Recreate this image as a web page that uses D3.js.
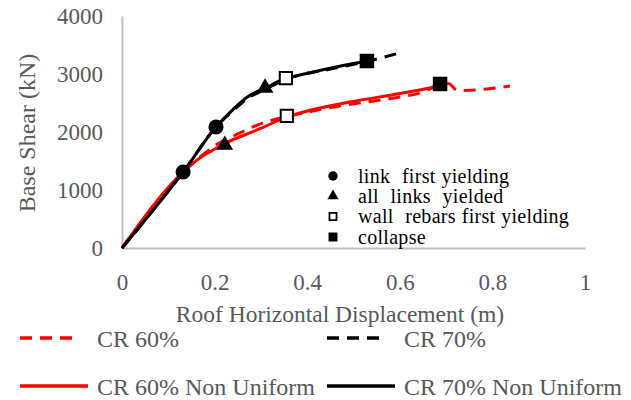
<!DOCTYPE html>
<html>
<head>
<meta charset="utf-8">
<script src="https://cdn.jsdelivr.net/npm/d3@7"></script>
<style>
  html, body { margin: 0; padding: 0; background: #fff; }
  svg { display: block; }
  text { font-family: "Liberation Serif", "Times New Roman", serif; }
</style>
</head>
<body>
<svg id="chart" width="631" height="400"></svg>
<script>
// Pushover curves: roof displacement (m) vs base shear (kN)
const cr60 = [
  [0, 0], [0.132, 1310], [0.168, 1565], [0.20, 1760], [0.255, 1985], [0.302, 2150],
  [0.356, 2262], [0.45, 2420], [0.60, 2605], [0.644, 2672], [0.687, 2810],
  [0.705, 2835], [0.725, 2715], [0.788, 2741], [0.838, 2793]
];
const cr70 = [
  [0, 0], [0.132, 1310], [0.203, 2086], [0.24, 2370], [0.27, 2572], [0.309, 2735],
  [0.356, 2912], [0.45, 3085], [0.529, 3215], [0.60, 3365]
];
const cr60NonUniform = [
  [0, 0], [0.132, 1310], [0.168, 1552], [0.197, 1690], [0.22, 1793], [0.302, 2069],
  [0.356, 2262], [0.384, 2328], [0.492, 2517], [0.60, 2664], [0.672, 2776], [0.695, 2835]
];
const cr70NonUniform = [
  [0, 0], [0.132, 1310], [0.203, 2086], [0.24, 2390], [0.27, 2600], [0.309, 2755],
  [0.356, 2931], [0.384, 2983], [0.45, 3100], [0.529, 3224]
];

// Damage states marked along the curves
const linkFirstYielding = [[0.132, 1310], [0.203, 2086]];
const allLinksYielded = [[0.222, 1776], [0.309, 2760]];
const wallRebarsFirstYielding = [[0.356, 2276], [0.354, 2931]];
const collapse = [[0.529, 3224], [0.687, 2828]];

const xTicks = [0, 0.2, 0.4, 0.6, 0.8, 1];
const yTicks = [0, 1000, 2000, 3000, 4000];

const seriesNames = ["CR 60%", "CR 70%", "CR 60% Non Uniform", "CR 70% Non Uniform"];
const markerNames = ["link  first yielding", "all  links  yielded", "wall  rebars first yielding", "collapse"];

const svg = d3.select("#chart");
const x = d3.scaleLinear().domain([0, 1]).range([122, 585]);
const y = d3.scaleLinear().domain([0, 4000]).range([248, 16]);

const axisGrey = "#bfbfbf";
const textGrey = "#595959";

// Axis lines without tick marks
const xAxis = d3.axisBottom(x).tickValues(xTicks).tickSize(0).tickPadding(0)
  .tickFormat(d3.format("~g"));
const yAxis = d3.axisLeft(y).tickValues(yTicks).tickSize(0).tickPadding(0)
  .tickFormat(d3.format("d"));

const gx = svg.append("g").attr("transform", `translate(0,${y(0)})`).call(xAxis);
gx.select(".domain").attr("stroke", axisGrey).attr("stroke-width", 2);
gx.selectAll("text").attr("fill", textGrey).attr("font-size", 23)
  .attr("dy", 0).attr("y", 42);

const gy = svg.append("g").attr("transform", `translate(${x(0)},0)`).call(yAxis);
gy.select(".domain").attr("stroke", axisGrey).attr("stroke-width", 2);
gy.selectAll("text").attr("fill", textGrey).attr("font-size", 23)
  .attr("x", -19).attr("dy", "0.33em");

// Axis titles
svg.append("text").attr("x", 340).attr("y", 322).attr("text-anchor", "middle")
  .attr("fill", textGrey).attr("font-size", 23.5).text("Roof Horizontal Displacement (m)");
svg.append("text").attr("transform", "translate(35,133) rotate(-90)").attr("text-anchor", "middle")
  .attr("fill", textGrey).attr("font-size", 24).text("Base Shear (kN)");

// Curves
const line = d3.line().x(d => x(d[0])).y(d => y(d[1])).curve(d3.curveMonotoneX);
const styles = [
  { data: cr60, color: "#ff0000", dash: "12,8" },
  { data: cr70, color: "#000000", dash: "12,8" },
  { data: cr60NonUniform, color: "#ff0000", dash: null },
  { data: cr70NonUniform, color: "#000000", dash: null }
];
styles.forEach(s => {
  svg.append("path").datum(s.data).attr("d", line).attr("fill", "none")
    .attr("stroke", s.color).attr("stroke-width", 3)
    .attr("stroke-dasharray", s.dash).attr("stroke-linecap", "butt");
});

// Markers
const sym = {
  circle: d3.symbol().type(d3.symbolCircle),
  triangle: d3.symbol().type(d3.symbolTriangle),
  square: d3.symbol().type(d3.symbolSquare)
};
const markerSets = [
  { data: linkFirstYielding, shape: "circle", size: 180, fill: "#000", stroke: "none" },
  { data: allLinksYielded, shape: "triangle", size: 120, fill: "#000", stroke: "none" },
  { data: wallRebarsFirstYielding, shape: "square", size: 150, fill: "#fff", stroke: "#000" },
  { data: collapse, shape: "square", size: 210, fill: "#000", stroke: "none" }
];
markerSets.forEach(m => {
  svg.append("g").selectAll("path").data(m.data).join("path")
    .attr("transform", d => `translate(${x(d[0])},${y(d[1])})`)
    .attr("d", sym[m.shape].size(m.size)())
    .attr("fill", m.fill).attr("stroke", m.stroke).attr("stroke-width", 2);
});

// Marker legend
const mlRows = [176, 196, 216.5, 237];
const mlSizes = [70, 55, 50, 80];
markerSets.forEach((m, i) => {
  svg.append("path").attr("transform", `translate(333,${mlRows[i]})`)
    .attr("d", sym[m.shape].size(mlSizes[i])())
    .attr("fill", m.fill).attr("stroke", m.stroke).attr("stroke-width", 1.8);
  svg.append("text").attr("x", 358).attr("y", mlRows[i]).attr("dy", "0.33em")
    .attr("fill", "#000").attr("font-size", 20).attr("xml:space", "preserve")
    .style("white-space", "pre").style("letter-spacing", "0.3px")
    .style("word-spacing", "0.5px").text(markerNames[i]);
});

// Series legend
const slPos = [[20, 338], [327, 338], [20, 386], [327, 386]];
styles.forEach((s, i) => {
  const [lx, ly] = slPos[i];
  const len = s.dash ? 60 : 68;
  svg.append("line").attr("x1", lx).attr("x2", lx + len).attr("y1", ly).attr("y2", ly)
    .attr("stroke", s.color).attr("stroke-width", 3.5).attr("stroke-dasharray", s.dash);
  svg.append("text").attr("x", lx + 77).attr("y", ly + 1).attr("dy", "0.33em")
    .attr("fill", textGrey).attr("font-size", 24).text(seriesNames[i]);
});
</script>
</body>
</html>
